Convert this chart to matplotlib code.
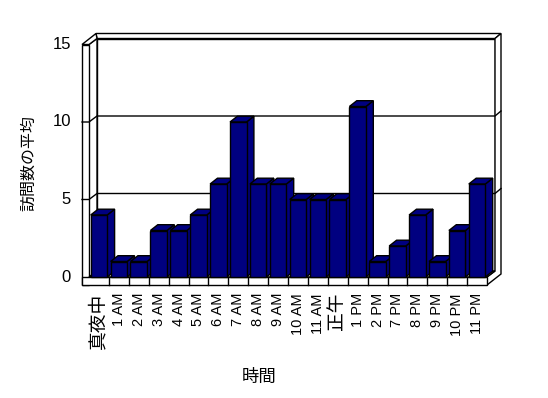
import matplotlib
matplotlib.use('Agg')
import matplotlib.pyplot as plt
from matplotlib.patches import Polygon, Rectangle

categories = ['真夜中', '1 AM', '2 AM', '3 AM', '4 AM', '5 AM', '6 AM', '7 AM',
              '8 AM', '9 AM', '10 AM', '11 AM', '正午', '1 PM', '2 PM', '7 PM',
              '8 PM', '9 PM', '10 PM', '11 PM']
values = [4, 1, 1, 3, 3, 4, 6, 10, 6, 6, 5, 5, 5, 11, 1, 2, 4, 1, 3, 6]
y_ticks = [0, 5, 10, 15]
x_title = '時間'
y_title = '訪問数の平均'

plt.rcParams['font.family'] = ['Liberation Sans', 'Noto Sans CJK JP', 'DejaVu Sans']

W, H = 548, 398
fig = plt.figure(figsize=(W / 100, H / 100), dpi=100)
ax = fig.add_axes([0, 0, 1, 1])
ax.axis('off')

# pixel <-> data mapping for the front plane
px_cat, px_val = 19.9, 15.5
x0px, y0px = 89, 277


def xl(px):
    return (px - x0px) / px_cat - 0.5


def yl(py):
    return (y0px - py) / px_val


ax.set_xlim(xl(0), xl(W))
ax.set_ylim(yl(H), yl(0))

n = len(categories)
xmin, xmax = -0.5, n - 0.5
ymax = y_ticks[-1]
Dx, Dy = 8 / px_cat, 6 / px_val      # depth to back wall
Tx, Ty = 6 / px_cat, 5 / px_val      # wall thickness (depth)
L = 7 / px_cat                        # left wall thickness
F = 8 / px_val                        # floor thickness
Bx, By = 7.4 / px_cat, 5.8 / px_val   # bar depth
bw = 0.83

lw = 1.0
kw = dict(facecolor='white', edgecolor='black', linewidth=lw, zorder=1)

# back wall inner face
ax.add_patch(Polygon([(xmin + Dx, Dy), (xmax + Dx, Dy), (xmax + Dx, ymax + Dy),
                      (xmin + Dx, ymax + Dy)], **kw))
# back wall top
ax.add_patch(Polygon([(xmin + Dx, ymax + Dy), (xmax + Dx, ymax + Dy),
                      (xmax + Dx + Tx, ymax + Dy + Ty),
                      (xmin - L + Dx + Tx, ymax + Dy + Ty)], **kw))
# right side (floor side + back wall side)
ax.add_patch(Polygon([(xmax, 0), (xmax, -F), (xmax + Dx + Tx, -F + Dy + Ty),
                      (xmax + Dx + Tx, ymax + Dy + Ty), (xmax + Dx, ymax + Dy),
                      (xmax + Dx, Dy)], **kw))
# left wall inner face
ax.add_patch(Polygon([(xmin, 0), (xmin, ymax), (xmin + Dx, ymax + Dy),
                      (xmin + Dx, Dy)], **kw))
# left wall top
ax.add_patch(Polygon([(xmin - L, ymax), (xmin, ymax), (xmin + Dx, ymax + Dy),
                      (xmin - L + Dx + Tx, ymax + Dy + Ty)], **kw))
# left wall front face
ax.add_patch(Rectangle((xmin - L, -F), L, ymax + F, **kw))
# floor top
ax.add_patch(Polygon([(xmin, 0), (xmax, 0), (xmax + Dx, Dy), (xmin + Dx, Dy)], **kw))
# floor front face
ax.add_patch(Rectangle((xmin - L, -F), xmax - xmin + L, F, **kw))
for i in range(n - 1):
    ax.plot([i + 0.5, i + 0.5], [0, -F], color='black', lw=lw, zorder=1.5)

# gridlines
for v in y_ticks[1:-1]:
    ax.plot([xmin - L, xmin, xmin + Dx, xmax + Dx, xmax + Dx + Tx],
            [v, v, v + Dy, v + Dy, v + Dy + Ty], color='black', lw=lw, zorder=1.5)

# bars
navy = '#000080'
for i, v in enumerate(values):
    xl_, xr_ = i - bw / 2, i + bw / 2
    ax.add_patch(Polygon([(xr_, 0), (xr_, v), (xr_ + Bx, v + By), (xr_ + Bx, By)],
                         facecolor=navy, edgecolor='black', lw=lw, zorder=2 + i * 0.01))
    ax.add_patch(Polygon([(xl_, v), (xr_, v), (xr_ + Bx, v + By), (xl_ + Bx, v + By)],
                         facecolor=navy, edgecolor='black', lw=lw, zorder=2 + i * 0.01))
    ax.bar(i, v, width=bw, color=navy, edgecolor='black', linewidth=lw,
           zorder=2.005 + i * 0.01)

# y tick labels
for v in y_ticks:
    ax.text(xl(71), v, str(v), ha='right', va='center', fontsize=12, color='black')

# x tick labels
for i, c in enumerate(categories):
    cjk = all(ord(ch) > 0x2E80 for ch in c)
    ax.text(i, yl(293), c, rotation=90, ha='center', va='top',
            fontsize=13.5 if cjk else 10.5, color='black')

ax.text(xl(259), yl(377), x_title, ha='center', va='center', fontsize=12.5)
ax.text(xl(29), yl(163), y_title, ha='center', va='center', rotation=90, fontsize=11.5)

fig.savefig('out.png', dpi=100, facecolor='white')
